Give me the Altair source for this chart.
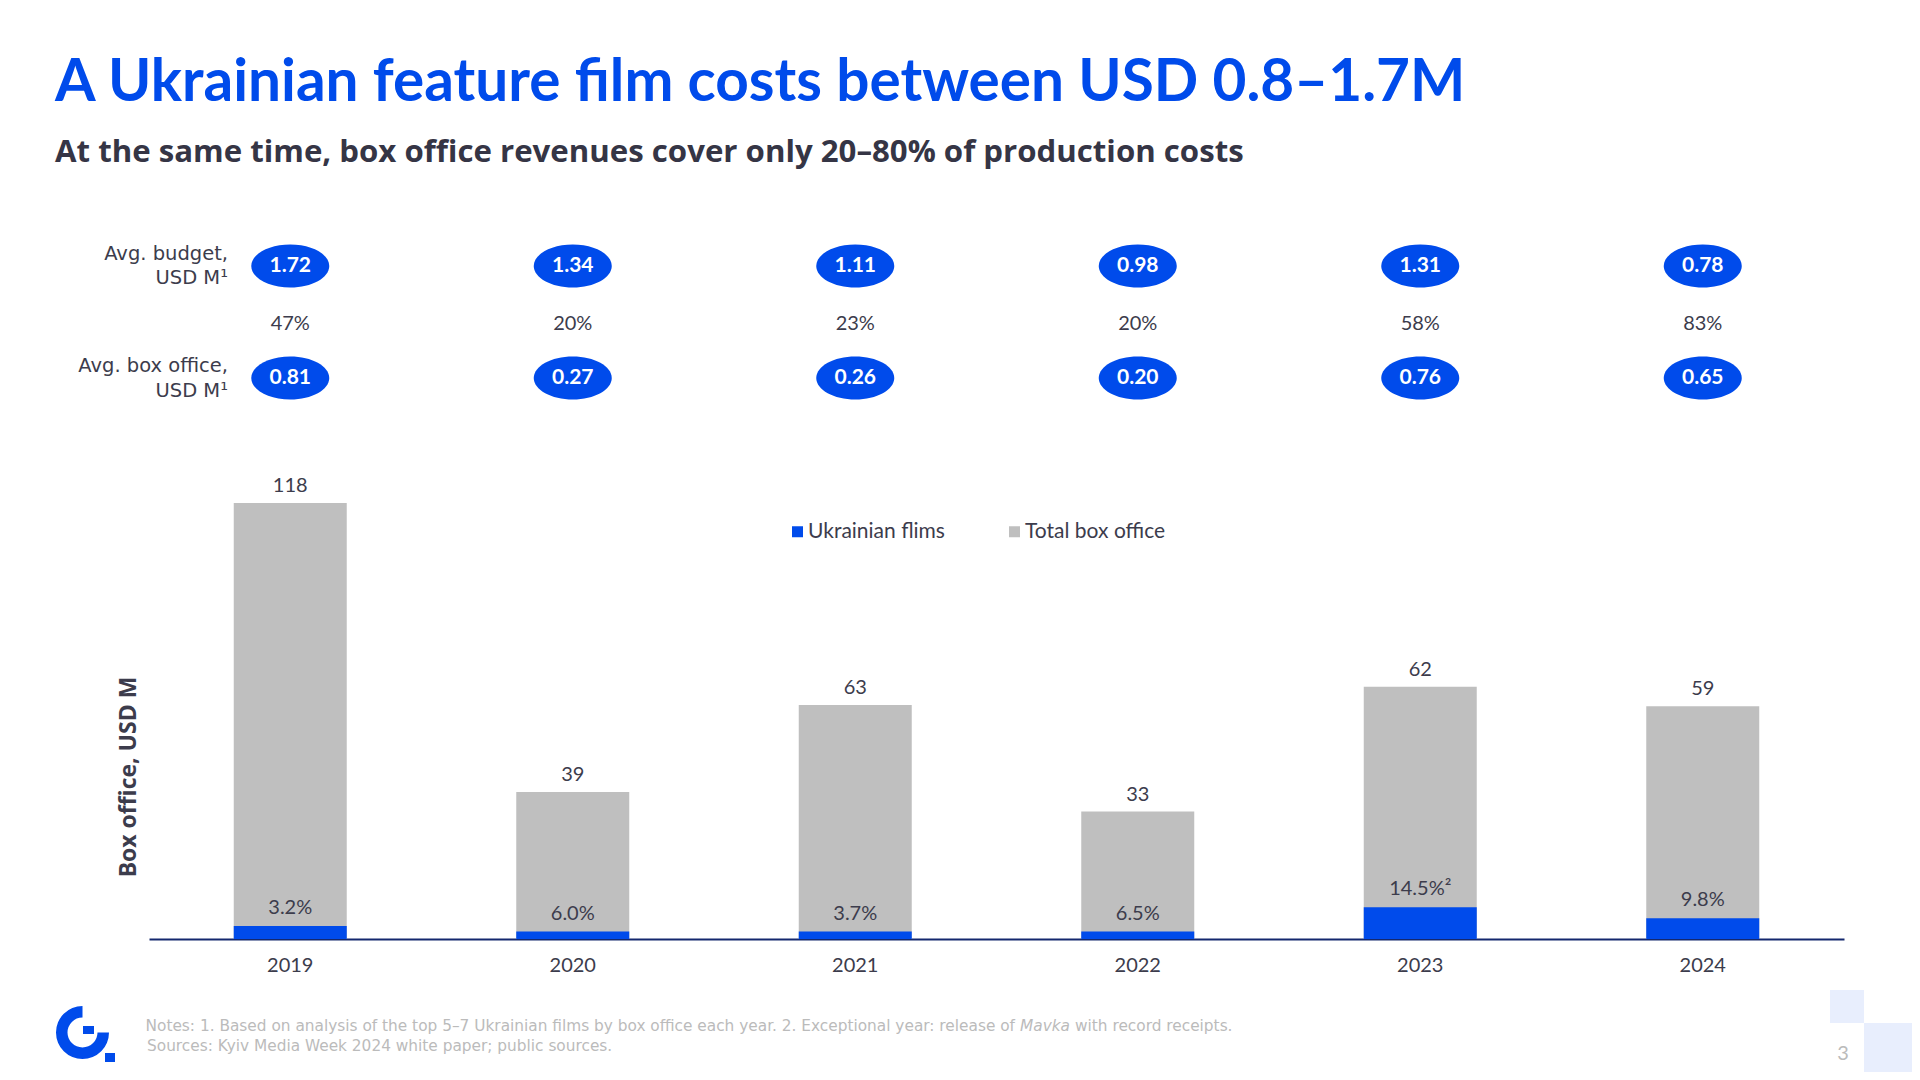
import math
import pandas as pd
import altair as alt

# ---------------- data ----------------
years = ["2019", "2020", "2021", "2022", "2023", "2024"]
total_label = [118, 39, 63, 33, 62, 59]                 # printed totals, USD M
total_bar_height = [118, 39.8, 63.3, 34.5, 68.3, 63.0]  # bar heights as drawn in the picture
ukrainian_box_office = [3.5, 2.0, 2.0, 2.0, 8.6, 5.6]
ukrainian_share = ["3.2%", "6.0%", "3.7%", "6.5%", "14.5%²", "9.8%"]
avg_budget = [1.72, 1.34, 1.11, 0.98, 1.31, 0.78]
avg_box_office = [0.81, 0.27, 0.26, 0.20, 0.76, 0.65]
coverage = ["47%", "20%", "23%", "20%", "58%", "83%"]
series_names = ["Ukrainian flims", "Total box office"]

TITLE = "A Ukrainian feature film costs between USD 0.8–1.7M"
SUBTITLE = "At the same time, box office revenues cover only 20–80% of production costs"
NOTE_A = "Notes: 1. Based on analysis of the top 5–7 Ukrainian films by box office each year. 2. Exceptional year: release of"
NOTE_B = "Mavka"
NOTE_C = "with record receipts."
SOURCES = "Sources: Kyiv Media Week 2024 white paper; public sources."

# ---------------- styles ----------------
FONT = "Lato"
FONT2 = "Open Sans"
FONT3 = "DejaVu Sans"
BLUE = "#004BEB"
GRAY = "#BFBFBF"
TXT = "#3C3C4C"
NAVY = "#14286E"
LIGHT = "#BBBBBB"
PALE = "#E8EEFD"

wide = pd.DataFrame({
    "year": years,
    "total": total_bar_height,
    "label": total_label,
    "ukr": ukrainian_box_office,
    "share": ukrainian_share,
    "budget": avg_budget,
    "box": avg_box_office,
    "cov": coverage,
})

long_rows = []
for i, y in enumerate(years):
    long_rows.append({"year": y, "series": series_names[1], "value": total_bar_height[i]})
    long_rows.append({"year": y, "series": series_names[0], "value": ukrainian_box_office[i]})
long = pd.DataFrame(long_rows)

X = alt.X(
    "year:N",
    sort=years,
    scale=alt.Scale(paddingInner=0.6, paddingOuter=0.3),
    axis=alt.Axis(
        title=None, labelFont=FONT, labelFontSize=20, labelColor=TXT,
        labelPadding=26, labelBaseline="middle", ticks=False, tickSize=0,
        domainColor=NAVY, domainWidth=2, labelAngle=0, grid=False,
    ),
)
YSC = alt.Scale(domain=[0, 118], nice=False, zero=True)

C = alt.Color(
    "series:N",
    scale=alt.Scale(domain=series_names, range=[BLUE, GRAY]),
    legend=alt.Legend(
        orient="none", legendX=638, legendY=18, direction="horizontal",
        title=None, symbolType="square", symbolSize=121, symbolStrokeWidth=0,
        labelFont=FONT, labelFontSize=21, labelColor=TXT, columnPadding=59,
        labelOffset=0, padding=0,
    ),
)

gray_bars = alt.Chart(long).transform_filter(
    alt.datum.series == series_names[1]
).mark_bar().encode(x=X, y=alt.Y("value:Q", scale=YSC, axis=None), color=C)

blue_bars = alt.Chart(long).transform_filter(
    alt.datum.series == series_names[0]
).mark_bar().encode(x=X, y=alt.Y("value:Q", scale=YSC, axis=None), color=C)

total_labels = alt.Chart(wide).mark_text(
    font=FONT, fontSize=20, color=TXT, baseline="alphabetic", dy=-11
).encode(x=X, y=alt.Y("total:Q", scale=YSC, axis=None), text="label:Q")

share_labels = alt.Chart(wide).mark_text(
    font=FONT, fontSize=20, color=TXT, baseline="alphabetic", dy=-12
).encode(x=X, y=alt.Y("ukr:Q", scale=YSC, axis=None), text="share:N")

ELLIPSE = "M -1 0 A 1 0.551 0 1 0 1 0 A 1 0.551 0 1 0 -1 0 Z"

def bubbles(field, ypix):
    dots = alt.Chart(wide).mark_point(
        shape=ELLIPSE, size=6084, filled=True, opacity=1, color=BLUE, strokeWidth=0
    ).encode(x=X, y=alt.value(ypix))
    labels = alt.Chart(wide).mark_text(
        font=FONT, fontSize=21, fontWeight="bold", color="white", baseline="middle"
    ).encode(x=X, y=alt.value(ypix), text=alt.Text(f"{field}:Q", format=".2f"))
    return dots + labels

budget_layer = bubbles("budget", -237)
box_layer = bubbles("box", -125)

coverage_labels = alt.Chart(wide).mark_text(
    font=FONT, fontSize=20, color=TXT, baseline="middle"
).encode(x=X, y=alt.value(-179), text="cov:N")


def text_layer(text, x, y, **kw):
    base = dict(font=FONT, fontSize=20, color=TXT, baseline="middle", align="left")
    base.update(kw)
    return alt.Chart(pd.DataFrame({"t": [text]})).mark_text(**base).encode(
        text="t:N", x=alt.value(x), y=alt.value(y)
    )


def rect_layer(x1, x2, y1, y2, color):
    return alt.Chart(pd.DataFrame({"k": [0]})).mark_rect(color=color).encode(
        x=alt.value(x1), x2=alt.value(x2), y=alt.value(y1), y2=alt.value(y2)
    )

texts = [
    text_layer(TITLE, -94, -420, fontSize=58.5, fontWeight="bold", color=BLUE),
    text_layer(SUBTITLE, -94, -350, font=FONT2, fontSize=31.2, fontWeight="bold", color="#353545"),
    text_layer("Avg. budget,", 79, -249, align="right", font=FONT3, fontSize=19.5),
    text_layer("USD M¹", 79, -225, align="right", font=FONT3, fontSize=19.5),
    text_layer("Avg. box office,", 79, -137, align="right", font=FONT3, fontSize=19.5),
    text_layer("USD M¹", 79, -112, align="right", font=FONT3, fontSize=19.5),
    text_layer("Box office, USD M", -20, 274, align="center", angle=270,
               font=FONT2, fontWeight="bold", fontSize=23),
    text_layer(NOTE_A, 866, 523, align="right", font=FONT3, fontSize=15.35, color=LIGHT),
    text_layer(NOTE_B, 871, 523, font=FONT3, fontSize=15.35, color=LIGHT, fontStyle="italic"),
    text_layer(NOTE_C, 926, 523, font=FONT3, fontSize=15.35, color=LIGHT),
    text_layer(SOURCES, -2, 543, font=FONT3, fontSize=15.35, color=LIGHT),
    text_layer("3", 1694, 551, align="center", fontSize=20, color=LIGHT),
]

logo_arc = alt.Chart(pd.DataFrame({"k": [0]})).mark_arc(color=BLUE).encode(
    x=alt.value(-66.5), y=alt.value(529.5),
    theta=alt.value(math.pi / 2), theta2=alt.value(2 * math.pi),
    radius=alt.value(26.5), radius2=alt.value(15),
)

decor = [
    logo_arc,
    rect_layer(-66, -55, 523, 531, BLUE),
    rect_layer(-44, -34, 550, 559, BLUE),
    rect_layer(1681, 1715, 487, 520, PALE),
    rect_layer(1715, 1780, 520, 580, PALE),
]

chart = alt.layer(
    gray_bars, blue_bars, total_labels, share_labels,
    budget_layer, box_layer, coverage_labels,
    *texts, *decor,
).properties(
    width=1695,
    height=436,
    autosize=alt.AutoSizeParams(type="none"),
    padding={"left": 141, "top": 495, "right": 68, "bottom": 133},
).configure_view(stroke=None)

chart.save("out.html", embed_options={"renderer": "svg", "actions": False})
